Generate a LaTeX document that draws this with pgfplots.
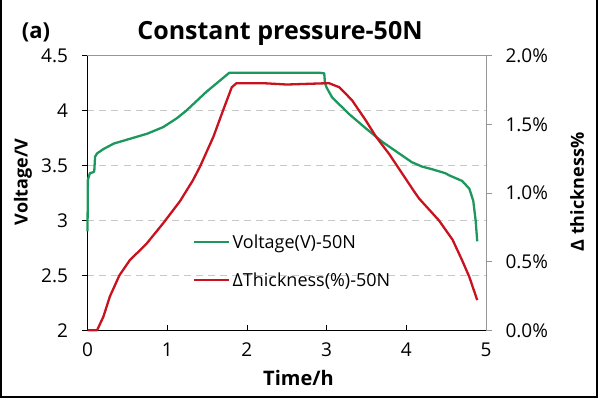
\documentclass[border=0pt]{standalone}
\usepackage{fontspec}
\setmainfont{Open Sans}
\usepackage{pgfplots}
\pgfplotsset{compat=1.18}
\definecolor{vgreen}{RGB}{28,152,92}
\definecolor{tred}{RGB}{200,18,30}
\definecolor{gridgray}{RGB}{200,200,200}
\definecolor{axgray}{RGB}{150,150,150}
\begin{document}
\begin{tikzpicture}[x=1pt,y=1pt]
\path[use as bounding box] (0,0) rectangle (600,398);
\draw[black,line width=2pt] (1,398) -- (1,1) -- (597,1) -- (597,398);
\begin{axis}[
  at={(87.5pt,67.7pt)}, anchor=south west,
  scale only axis, width=398.5pt, height=274.6pt,
  xmin=0, xmax=5, ymin=2, ymax=4.5,
  axis x line*=bottom, axis y line*=left,
  axis line style={black, line width=0.8pt},
  xtick={0,1,2,3,4,5}, xticklabels={0,1,2,3,4,5},
  ytick={2,2.5,3,3.5,4,4.5}, yticklabels={2,2.5,3,3.5,4,4.5},
  x tick style={black, line width=0.6pt},
  xtick align=inside, ytick align=outside,
  major tick length=5pt,
  y tick style={black, line width=0.6pt},
  ticklabel style={font=\fontsize{19}{19}\selectfont},
  xticklabel style={yshift=-9pt},
  yticklabel style={xshift=-11pt},
  ymajorgrids, grid style={gridgray, dashed, dash pattern=on 7pt off 5pt, line width=0.8pt},
  clip=false,
]
\draw[axgray, line width=0.8pt] (rel axis cs:0,1) -- (rel axis cs:1,1);
\addplot[vgreen, line width=2.3pt, line join=round] coordinates {
(0,2.90) (0.005,3.37) (0.03,3.43) (0.075,3.44) (0.085,3.45) (0.095,3.58)
(0.12,3.61) (0.2,3.65) (0.33,3.70) (0.54,3.745) (0.75,3.79) (0.95,3.85)
(1.12,3.93) (1.24,4.00) (1.49,4.17) (1.78,4.345) (2.9,4.345) (2.97,4.34)
(2.98,4.25) (3.0,4.21) (3.07,4.12) (3.28,3.97) (3.49,3.84) (3.70,3.715)
(3.91,3.61) (4.07,3.53) (4.2,3.49) (4.33,3.465) (4.49,3.43) (4.54,3.41)
(4.70,3.36) (4.79,3.29) (4.84,3.18) (4.87,3.00) (4.89,2.81)
};
\end{axis}
\begin{axis}[
  at={(87.5pt,67.7pt)}, anchor=south west,
  scale only axis, width=398.5pt, height=274.6pt,
  xmin=0, xmax=5, ymin=0, ymax=2,
  axis x line=none, axis y line*=right,
  axis line style={axgray, line width=0.8pt},
  ytick={0,0.5,1,1.5,2}, yticklabels={0.0\%,0.5\%,1.0\%,1.5\%,2.0\%},
  ytick align=outside, major tick length=6pt,
  y tick style={axgray, line width=0.6pt},
  ticklabel style={font=\fontsize{19}{19}\selectfont},
  yticklabel style={xshift=10pt},
  legend style={draw=none, fill=none, at={(axis description cs:0.265,0.357)}, anchor=north west,
    font=\fontsize{18}{18}\selectfont, row sep=19pt, inner sep=0pt,
    legend cell align=left},
  legend image code/.code={\draw[#1] (0pt,0pt) -- (35pt,0pt);},
  clip=false,
]
\addlegendimage{vgreen, line width=2.3pt}
\addlegendentry{Voltage(V)-50N}
\addplot[tred, line width=2.3pt, line join=round] coordinates {
(0,0) (0.12,0) (0.2,0.1) (0.28,0.245) (0.4,0.40) (0.53,0.51) (0.74,0.63)
(0.95,0.78) (1.16,0.94) (1.32,1.09) (1.41,1.19) (1.58,1.41) (1.70,1.60)
(1.81,1.77) (1.87,1.80) (2.2,1.80) (2.5,1.79) (3.03,1.80) (3.16,1.77)
(3.32,1.675) (3.49,1.53) (3.62,1.41) (3.79,1.28) (3.95,1.14) (4.10,1.01)
(4.16,0.96) (4.41,0.80) (4.58,0.66) (4.70,0.51) (4.79,0.39) (4.89,0.22)
};
\addlegendentry{ΔThickness(\%)-50N}
\end{axis}
\node[font=\fontsize{25}{25}\selectfont\bfseries] at (280,365) {Constant pressure-50N};
\node[font=\fontsize{22}{22}\selectfont\bfseries] at (36,366) {(a)};
\node[font=\fontsize{20}{20}\selectfont\bfseries] at (298.5,20) {Time/h};
\node[font=\fontsize{18}{18}\selectfont\bfseries, rotate=90] at (23,216) {Voltage/V};
\node[font=\fontsize{18}{18}\selectfont\bfseries, rotate=90] at (577,206) {Δ thickness\%};
\end{tikzpicture}
\end{document}
